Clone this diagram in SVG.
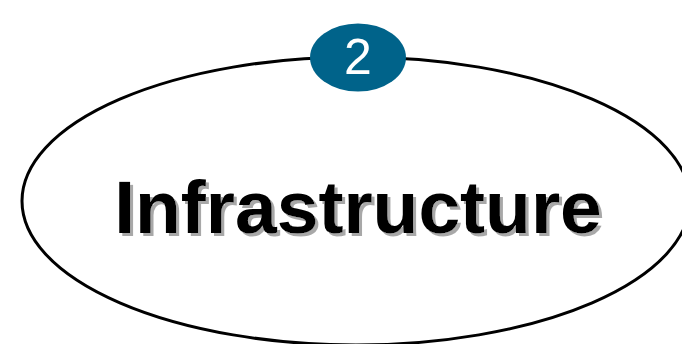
<svg xmlns="http://www.w3.org/2000/svg" width="682" height="344" viewBox="0 0 682 344">
<style>
.title{font-family:"Liberation Sans",Arial,sans-serif;font-weight:bold;font-size:75px;text-anchor:middle;fill:#000000}
.num{font-family:"Liberation Sans",Arial,sans-serif;font-size:50px;fill:#ffffff;text-anchor:middle}
</style>
<defs>
<filter id="shadow" x="-5%" y="-20%" width="110%" height="140%">
<feDropShadow dx="3" dy="3" stdDeviation="0.6" flood-color="#a8a8a8" flood-opacity="1"/>
</filter>
</defs>
<rect width="682" height="344" fill="#ffffff"/>
<g id="main-node">
<ellipse cx="356" cy="201" rx="334" ry="144" fill="#ffffff" stroke="#000000" stroke-width="3"/>
<text class="title" x="358" y="233" filter="url(#shadow)">Infrastructure</text>
</g>
<g id="badge">
<ellipse cx="358" cy="57.5" rx="48" ry="34" fill="#00638a"/>
<text class="num" x="358" y="74">2</text>
</g>
</svg>
